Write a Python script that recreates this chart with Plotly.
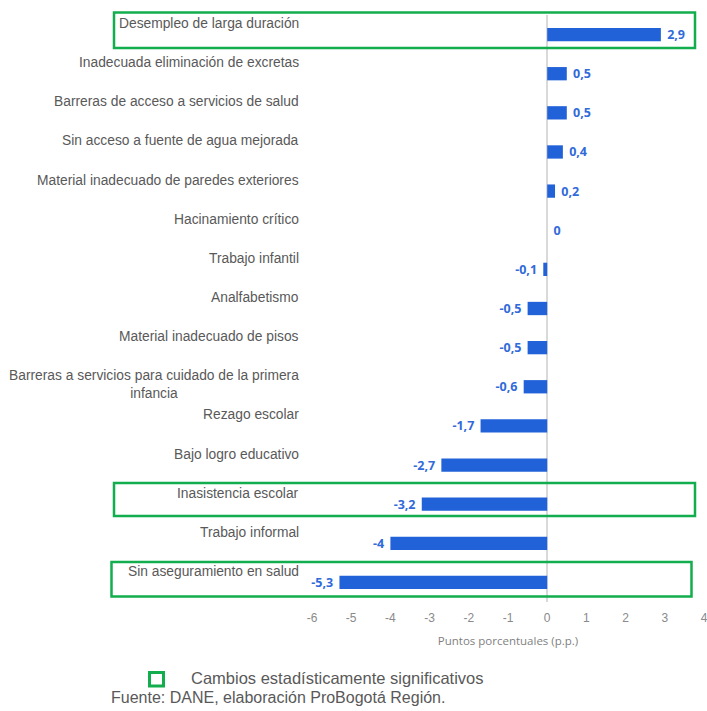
import plotly.graph_objects as go

categories = [
    "Desempleo de larga duración",
    "Inadecuada eliminación de excretas",
    "Barreras de acceso a servicios de salud",
    "Sin acceso a fuente de agua mejorada",
    "Material inadecuado de paredes exteriores",
    "Hacinamiento crítico",
    "Trabajo infantil",
    "Analfabetismo",
    "Material inadecuado de pisos",
    "Barreras a servicios para cuidado de la primera<br>infancia",
    "Rezago escolar",
    "Bajo logro educativo",
    "Inasistencia escolar",
    "Trabajo informal",
    "Sin aseguramiento en salud",
]
values = [2.9, 0.5, 0.5, 0.4, 0.2, 0, -0.1, -0.5, -0.5, -0.6, -1.7, -2.7, -3.2, -4, -5.3]
significant = ["Desempleo de larga duración", "Inasistencia escolar", "Sin aseguramiento en salud"]
x_ticks = [-6, -5, -4, -3, -2, -1, 0, 1, 2, 3, 4]
x_tick_labels = [str(t) for t in x_ticks]

W_FIG, H_FIG = 707, 711
L, R, T, B = 312, 3, 15, 109
PW, PH = W_FIG - L - R, H_FIG - T - B


def px_x(p):
    return (p - L) / PW


def px_y(p):
    return (T + PH - p) / PH


def fmt(v):
    return ("%g" % v).replace(".", ",")


NBSP = "\u00a0"
texts = [(NBSP + fmt(v)) if v >= 0 else (fmt(v) + NBSP) for v in values]

BLUE = "#2262d9"
LBLUE = "#316ad9"
GREEN = "#12ad4c"
GRAY = "#595959"

fig = go.Figure()
fig.add_trace(go.Bar(
    x=values, y=categories, orientation="h",
    marker=dict(color=BLUE, line=dict(width=0)),
    width=0.34,
    text=texts, textposition="outside", cliponaxis=False,
    constraintext="none",
    textfont=dict(family="Open Sans", size=12.5, color=LBLUE, weight="bold"),
    hoverinfo="skip",
))

annotations = []
for c in categories:
    two = "<br>" in c
    annotations.append(dict(
        x=0, xref="paper", y=c, yref="y",
        text=c, showarrow=False, xanchor="right", yanchor="middle",
        align="center", xshift=-11, yshift=2 if two else 11,
        font=dict(family="Liberation Sans", size=13.8, color=GRAY),
    ))

annotations.append(dict(
    x=px_x(189), xref="paper", y=px_y(678), yref="paper",
    text="Cambios estadísticamente significativos", showarrow=False,
    xanchor="left", yanchor="middle",
    font=dict(family="Liberation Sans", size=16.5, color=GRAY),
))
annotations.append(dict(
    x=px_x(109), xref="paper", y=px_y(697), yref="paper",
    text="Fuente: DANE, elaboración ProBogotá Región.", showarrow=False,
    xanchor="left", yanchor="middle",
    font=dict(family="Liberation Sans", size=16, color=GRAY),
))

boxes = {
    "Desempleo de larga duración": (114, 695, 12.5, 48),
    "Inasistencia escolar": (114, 695, 483, 516),
    "Sin aseguramiento en salud": (111.5, 691.5, 562, 596.5),
}
shapes = []
for name in significant:
    x0, x1, y0, y1 = boxes[name]
    shapes.append(dict(type="rect", xref="paper", yref="paper",
                       x0=px_x(x0), x1=px_x(x1), y0=px_y(y1), y1=px_y(y0),
                       line=dict(color=GREEN, width=2.5), fillcolor="rgba(0,0,0,0)", layer="above"))
shapes.append(dict(type="rect", xref="paper", yref="paper",
                   x0=px_x(149.5), x1=px_x(163.5), y0=px_y(686), y1=px_y(672.5),
                   line=dict(color=GREEN, width=3), fillcolor="rgba(0,0,0,0)"))

fig.update_layout(
    width=W_FIG, height=H_FIG,
    margin=dict(l=L, r=R, t=T, b=B, autoexpand=False),
    paper_bgcolor="white", plot_bgcolor="white",
    showlegend=False,
    xaxis=dict(range=[-6, 4], tickvals=x_ticks, ticktext=x_tick_labels, ticks="", showgrid=False,
               zeroline=True, zerolinecolor="#d9d9d9", zerolinewidth=1.5,
               showline=False, ticklabelstandoff=7, ticklabeloverflow="allow", automargin=False,
               tickfont=dict(family="Liberation Sans", size=12, color="#8a8a8a"),
               title=dict(text="Puntos porcentuales (p.p.)", standoff=12,
                          font=dict(family="Open Sans", size=11.5, color="#7f7f7f"))),
    yaxis=dict(type="category", categoryorder="array", categoryarray=categories,
               range=[14.5, -0.5], showticklabels=False, showgrid=False,
               zeroline=False, showline=False, ticks="", automargin=False),
    annotations=annotations,
    shapes=shapes,
    bargap=0.66,
)

fig.write_html(
    "out.html",
    config={"displayModeBar": False},
    post_script="document.body.style.margin='0px';document.body.style.overflow='hidden';",
)
